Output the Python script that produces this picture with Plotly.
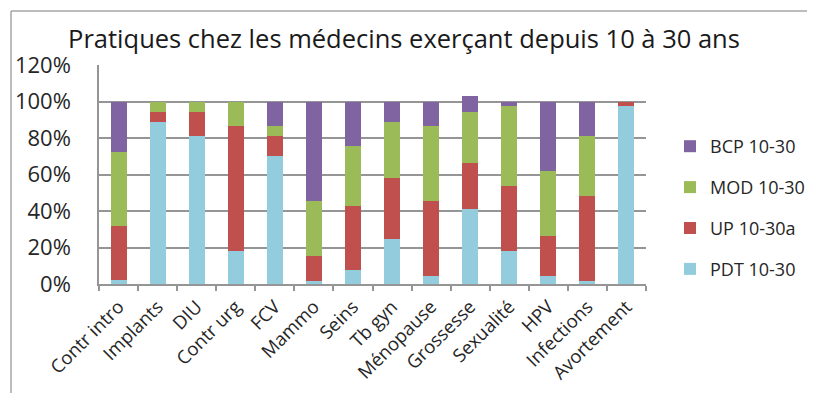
import plotly.graph_objects as go

categories = ["Contr intro", "Implants", "DIU", "Contr urg", "FCV", "Mammo", "Seins",
              "Tb gyn", "Ménopause", "Grossesse", "Sexualité", "HPV", "Infections", "Avortement"]

# shares in %
pdt = [2.0, 89.0, 81.0, 18.3, 70.0, 1.8, 7.5, 24.5, 4.6, 41.1, 18.3, 4.6, 1.8, 97.4]
up = [29.6, 5.0, 13.5, 68.2, 11.0, 13.7, 35.1, 33.5, 40.7, 25.3, 35.3, 21.5, 46.3, 2.6]
mod = [41.0, 6.0, 5.5, 13.5, 5.5, 30.2, 32.9, 30.7, 41.2, 28.1, 43.8, 35.7, 32.9, 0.0]
bcp = [27.4, 0.0, 0.0, 0.0, 13.5, 54.3, 24.5, 11.3, 13.5, 8.4, 2.6, 38.2, 19.0, 0.0]

series = [
    ("PDT 10-30", pdt, "#93CDDD", 4),
    ("UP 10-30a", up, "#C0504D", 3),
    ("MOD 10-30", mod, "#9BBB59", 2),
    ("BCP 10-30", bcp, "#8064A2", 1),
]

font = "Open Sans, Liberation Sans, sans-serif"
OFF = 8  # page body margin
# keep the figure inside the window so no scrollbars show
W, H = 815 - 2 * OFF, 401 - 2 * OFF
# plot area in page pixels: x 99..646, y 65..284
L, T = 99 - OFF, 65 - OFF
R, B = W - (646 - OFF), H - (284 - OFF)
pw, ph = W - L - R, H - T - B


def px_x(x):
    return (x - OFF - L) / pw


def px_y(y):
    return 1 - (y - OFF - T) / ph


fig = go.Figure()
for name, vals, color, rank in series:
    fig.add_trace(go.Bar(
        x=categories, y=[v / 100 for v in vals], name=name,
        marker_color=color, marker_line_width=0,
        legendgroup=name, legendrank=rank,
    ))

fig.update_layout(
    width=W, height=H,
    barmode="stack", bargap=0.59,
    paper_bgcolor="white", plot_bgcolor="white",
    margin=dict(l=L, r=R, t=T, b=B, autoexpand=False),
    font=dict(family=font, color="#262626"),
    title=dict(text="Pratiques chez les médecins exerçant depuis 10 à 30 ans",
               x=(404 - OFF) / W, xanchor="center", y=1 - (39 - OFF) / H, yanchor="middle",
               font=dict(size=25.5, color="#1a1a1a")),
    legend=dict(x=px_x(670), xanchor="left", y=px_y(128), yanchor="top",
                traceorder="grouped", tracegroupgap=14.5,
                font=dict(size=18, color="#262626"), bgcolor="rgba(0,0,0,0)"),
    showlegend=True,
)

fig.update_yaxes(
    range=[0, 1.2], dtick=0.2, tickformat=".0%", automargin=False,
    showgrid=True, gridcolor="#959595", gridwidth=1.5,
    showline=True, linecolor="#959595", linewidth=1.5,
    tickfont=dict(size=22), ticks="", zeroline=False, ticklabelstandoff=22,
)
fig.update_xaxes(
    tickangle=-45, tickfont=dict(size=18.5), automargin=False,
    showline=True, linecolor="#959595", linewidth=1.5,
    ticks="outside", ticklen=5, tickcolor="#959595", tickwidth=1.5,
    tickson="boundaries", showgrid=False, ticklabelstandoff=3,
)

# chart area border: only top and left edges are visible in the reference
border = dict(color="#A6A6A6", width=1.5)
fig.add_shape(type="line", xref="paper", yref="paper",
              x0=px_x(11), x1=px_x(815), y0=px_y(11), y1=px_y(11), line=border)
fig.add_shape(type="line", xref="paper", yref="paper",
              x0=px_x(11), x1=px_x(11), y0=px_y(11), y1=px_y(401), line=border)

fig.write_html("out.html")
